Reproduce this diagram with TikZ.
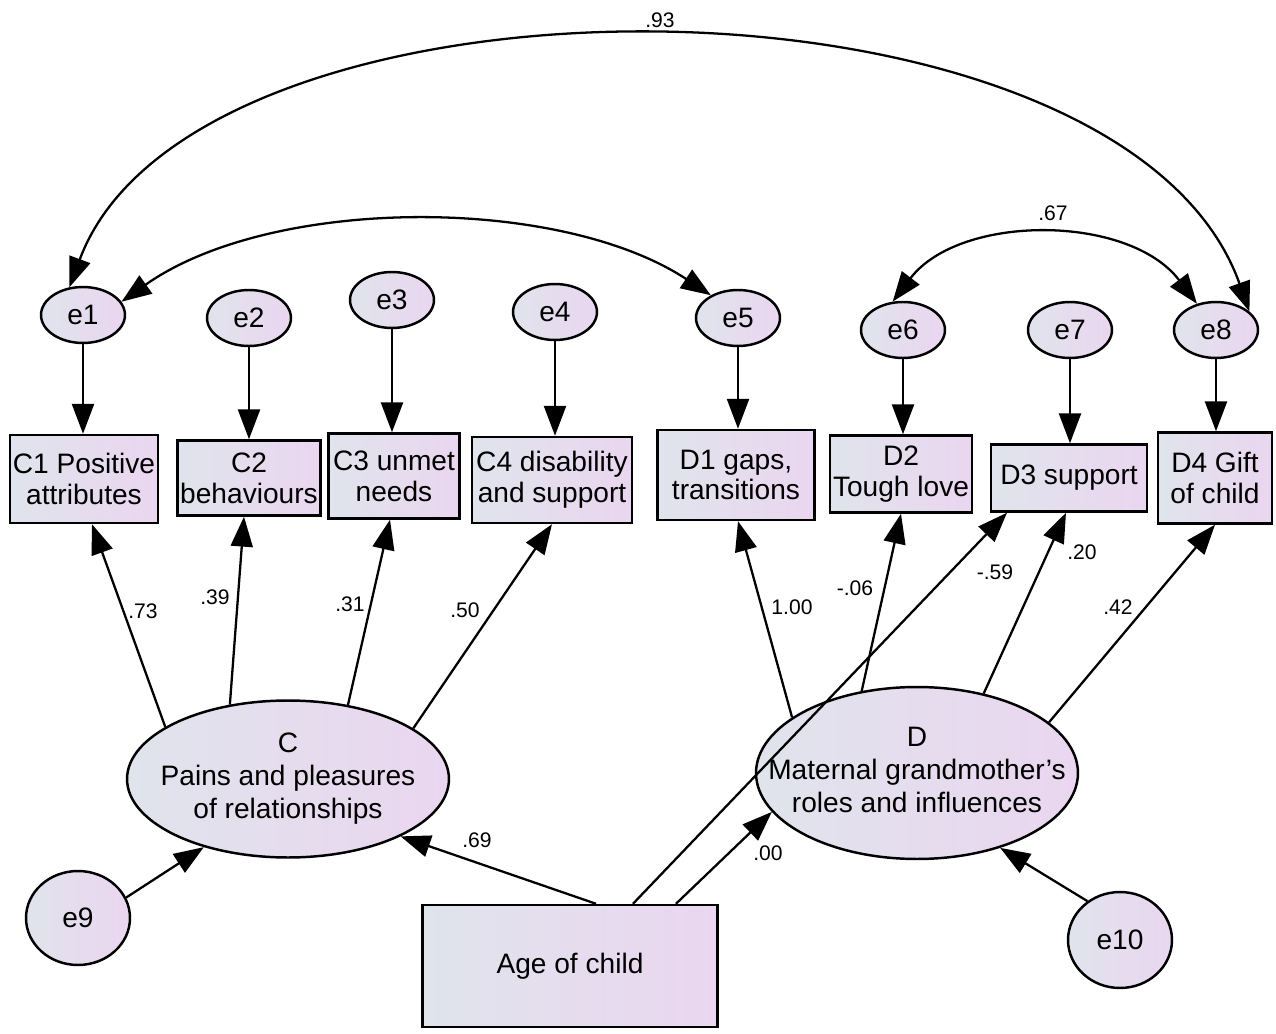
\documentclass[tikz,border=0pt]{standalone}
\usepackage{fontspec}
\setmainfont{Liberation Sans}
\usetikzlibrary{arrows.meta,shapes.geometric}
\definecolor{fillL}{RGB}{224,228,236}
\definecolor{fillR}{RGB}{234,214,240}
% centred lines that do not widen the ellipse drawn around them
\newcommand\latentlabel[1]{\makebox[0pt]{\begin{tabular}{@{}c@{}}#1\end{tabular}}}
\begin{document}
\begin{tikzpicture}[x=0.02cm,y=-0.02cm,
  grad/.style={left color=fillL,right color=fillR},
  obs/.style={grad, draw, line width=1.4pt, rectangle, align=center, inner sep=0pt,
    font=\fontsize{16}{17.6}\selectfont},
  lat/.style={grad, draw, line width=1.4pt, ellipse, align=center, inner sep=0pt,
    font=\fontsize{16}{18.7}\selectfont},
  err/.style={lat, minimum width=1.68cm, minimum height=1.12cm},
  load/.style={line width=1.3pt, -{Triangle[length=17pt,width=12.5pt]}},
  cov/.style={line width=1.3pt, {Triangle[length=17pt,width=12.5pt]}-{Triangle[length=17pt,width=12.5pt]}},
  lbl/.style={font=\fontsize{12}{14}\selectfont, inner sep=0pt}]
\useasboundingbox (0,0) rectangle (1276,1034);

% error terms of the indicators
\node[err] (e1) at (83,315) {e1};
\node[err] (e2) at (249,318) {e2};
\node[err] (e3) at (392,300) {e3};
\node[err] (e4) at (555,312) {e4};
\node[err] (e5) at (738,318) {e5};
\node[err] (e6) at (903,330) {e6};
\node[err] (e7) at (1070,330) {e7};
\node[err] (e8) at (1216,330) {e8};

% observed indicators
\node[obs, minimum width=2.96cm, minimum height=1.76cm] (C1) at (84,479) {C1 Positive\\attributes};
\node[obs, minimum width=2.86cm, minimum height=1.50cm] (C2) at (249,478) {C2\\behaviours};
\node[obs, minimum width=2.62cm, minimum height=1.70cm] (C3) at (394,476) {C3 unmet\\needs};
\node[obs, minimum width=3.20cm, minimum height=1.72cm] (C4) at (552,480) {C4 disability\\and support};
\node[obs, minimum width=3.14cm, minimum height=1.80cm] (D1) at (736,475) {D1 gaps,\\transitions};
\node[obs, minimum width=2.84cm, minimum height=1.54cm] (D2) at (901,474) {D2\\Tough love};
\node[obs, minimum width=3.12cm, minimum height=1.34cm] (D3) at (1069,478) {D3 support};
\node[obs, minimum width=2.28cm, minimum height=1.82cm] (D4) at (1215,478) {D4 Gift\\of child};

% latent factors, their disturbances and the predictor
\node[lat, minimum width=6.44cm, minimum height=3.14cm] (C) at (288,779)
  {\latentlabel{C\\Pains and pleasures\\of relationships}};
\node[lat, minimum width=6.44cm, minimum height=3.44cm] (D) at (917,773)
  {\latentlabel{D\\Maternal grandmother’s\\roles and influences}};
\node[lat, minimum width=2.08cm, minimum height=1.88cm] (e9) at (78,918) {e9};
\node[lat, minimum width=2.08cm, minimum height=1.92cm] (e10) at (1120,940) {e10};
\node[obs, minimum width=5.90cm, minimum height=2.44cm] (age) at (570,966) {Age of child};

% errors to indicators
\foreach \e/\v in {e1/C1,e2/C2,e3/C3,e4/C4,e5/D1,e6/D2,e7/D3,e8/D4}
  \draw[load] (\e) -- (\e |- \v.north);

% loadings of C
\draw[load] (C.157) -- ([xshift=0.16cm]C1.south);
\draw[load] (C.128) -- ([xshift=-0.10cm]C2.south);
\draw[load] (C.51) -- ([xshift=-0.08cm]C3.south);
\draw[load] (C.22) -- (C4.south);

% loadings of D
\draw[load] (D.156) -- ([xshift=0.04cm]D1.south);
\draw[load] (D.124) -- (D2.south);
\draw[load] (D.50) -- ([xshift=-0.06cm]D3.south);
\draw[load] (D.21) -- (D4.south);

% structural paths
\draw[load] ([xshift=0.52cm]age.north) -- (C.333);
\draw[load] ([xshift=2.12cm]age.north) -- (D.195);
\draw[load] ([xshift=1.26cm]age.north) -- ([xshift=-1.24cm]D3.south);
\draw[load] (e9.23) -- (C.219);
\draw[load] (e10.130) -- (D.318);

% covariances between error terms
\draw[cov] (e1.116) .. controls +(125,-337) and +(-128,-359) .. (e8.29);
\draw[cov] (e1.19) .. controls +(150,-106) and +(-152,-100) .. (e5.140);
\draw[cov] (e6.110) .. controls +(67,-88) and +(-68,-90) .. (e8.126);

% estimates
\node[lbl] (l93) at (660,20) {.93};
\node[lbl] (l67) at (1053,213) {.67};
\node[lbl] (l73) at (143,611) {.73};
\node[lbl] (l39) at (215,597) {.39};
\node[lbl] (l31) at (350,604) {.31};
\node[lbl] (l50) at (465,610) {.50};
\node[lbl] (l100) at (792,607) {1.00};
\node[lbl] (l06) at (855,588) {-.06};
\node[lbl] (l59) at (995,572) {-.59};
\node[lbl] (l20) at (1082,552) {.20};
\node[lbl] (l42) at (1118,607) {.42};
\node[lbl] (l69) at (477,840) {.69};
\node[lbl] (l00) at (768,853) {.00};
\end{tikzpicture}
\end{document}
